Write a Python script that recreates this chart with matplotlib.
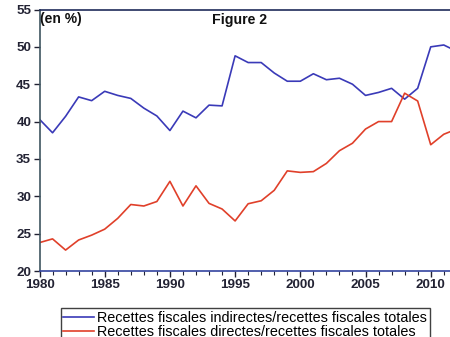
import matplotlib
matplotlib.use("Agg")
import matplotlib.pyplot as plt
from matplotlib.ticker import MultipleLocator

plt.rcParams['font.family'] = ['Liberation Sans', 'DejaVu Sans']

years = list(range(1980, 2013))
indirectes = [40.3, 38.5, 40.7, 43.3, 42.8, 44.05, 43.5, 43.1, 41.8, 40.75,
              38.8, 41.4, 40.5, 42.2, 42.1, 48.8, 47.9, 47.9, 46.5, 45.4,
              45.4, 46.4, 45.6, 45.8, 45.0, 43.5, 43.9, 44.45, 43.0, 44.45,
              50.0, 50.25, 49.4]
directes = [23.8, 24.3, 22.8, 24.15, 24.8, 25.6, 27.05, 28.9, 28.7, 29.3,
            32.0, 28.7, 31.4, 29.05, 28.3, 26.7, 29.0, 29.4, 30.8, 33.4,
            33.2, 33.3, 34.4, 36.1, 37.1, 39.0, 40.0, 40.0, 43.8, 42.75,
            36.9, 38.3, 39.0]
labels = ["Recettes fiscales indirectes/recettes fiscales totales",
          "Recettes fiscales directes/recettes fiscales totales"]

fig = plt.figure(figsize=(4.5, 3.37), dpi=100)
ax = fig.add_axes([39.5 / 450, 66 / 337, 417.3 / 450, 261.5 / 337])

l1, = ax.plot(years, indirectes, color='#3a3ab8', lw=1.2)
l2, = ax.plot(years, directes, color='#e0402a', lw=1.2)

ax.set_xlim(1980, 2012)
ax.set_ylim(20, 55)
ax.xaxis.set_major_locator(MultipleLocator(5))
ax.xaxis.set_minor_locator(MultipleLocator(1))
ax.yaxis.set_major_locator(MultipleLocator(5))
ax.tick_params(axis='both', which='major', direction='out', length=4,
               width=1, labelsize=9.6, colors='#222233', pad=2)
ax.tick_params(axis='x', which='minor', direction='out', length=3, width=0.8,
               colors='#222233')
for lab in ax.get_xticklabels() + ax.get_yticklabels():
    lab.set_fontweight('bold')

ax.spines['top'].set_color('#1f2b5a')
ax.spines['left'].set_color('#3e5560')
ax.spines['bottom'].set_color('#3344a0')
ax.spines['right'].set_visible(False)
for s in ax.spines.values():
    s.set_linewidth(1.2)

ax.text(0.002, 0.99, "(en %)", transform=ax.transAxes, ha='left', va='top',
        fontsize=10, fontweight='bold', color='#111111')
fig.text(240 / 450, 1 - 20 / 337, "Figure 2", ha='center', va='center',
         fontsize=10.2, fontweight='bold', color='#111111')

leg = fig.legend([l1, l2], labels, loc='upper left',
                 bbox_to_anchor=(60.5 / 450, 1 - 308 / 337),
                 fontsize=10.4, frameon=True, fancybox=False,
                 handlelength=2.1, handletextpad=0.25, borderpad=0.2,
                 labelspacing=0.0, borderaxespad=0)
leg.get_frame().set_edgecolor('#111111')
leg.get_frame().set_linewidth(1.0)

fig.savefig("out.png", dpi=100)
